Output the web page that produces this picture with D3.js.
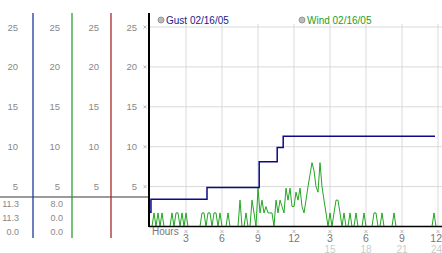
<!DOCTYPE html>
<html>
<head>
<meta charset="utf-8">
<script src="https://cdn.jsdelivr.net/npm/d3@7"></script>
<style>
  body { margin: 0; background: #fff; }
  text { font-family: "Liberation Sans", Arial, sans-serif; }
</style>
</head>
<body>
<div class="chart"></div>
<script>
// y axis ticks and bottom hour ticks
const yTicks = [5, 10, 15, 20, 25];
const hourTicks = [3, 6, 9, 12, 15, 18, 21, 24];
const hourLabels = ["3", "6", "9", "12", "3", "6", "9", "12"];
const hourLabels24 = ["", "", "", "", "15", "18", "21", "24"];

// legend / stats
const seriesNames = ["Gust 02/16/05", "Wind 02/16/05"];
const gustStats = ["11.3", "11.3", "0.0"];
const windStats = ["8.0", "0.0", "0.0"];

// gust: [hour, value], stepped
const gust = [
  [0, 1.8], [0.08, 3.4], [4.75, 4.9], [9.1, 8.1],
  [10.6, 9.9], [11.1, 11.3], [23.75, 11.3]
];

// wind: 10 minute samples, one row per hour
const wind = [
  0, 0, 1.7, 0, 1.7, 0,
  1.7, 0, 0, 0, 0, 1.7,
  0, 1.7, 1.7, 0, 1.7, 0,
  1.7, 0, 0, 0, 0, 0,
  0, 0, 1.7, 1.7, 0, 1.7,
  1.7, 0, 1.7, 1.7, 0, 1.7,
  0, 0, 0, 1.7, 0, 0,
  0, 0, 0, 3.3, 0, 0,
  1.7, 0, 0, 3.3, 1.7, 0,
  4.8, 1.7, 3.3, 1.7, 2.5, 1.7,
  1.7, 1.7, 0, 3.3, 1.7, 3.3,
  2.5, 1.7, 4.8, 3.3, 4.8, 2.5,
  2.5, 4.3, 3.3, 4.8, 2.5, 1.7,
  3.3, 5.0, 6.5, 8.0, 7.0, 5.0,
  4.3, 8.0, 5.0, 3.3, 1.7, 0,
  1.7, 0, 1.7, 3.3, 3.3, 1.7,
  0, 1.7, 0, 0, 1.7, 0,
  0, 1.7, 0, 0, 0, 1.7,
  0, 0, 0, 0, 1.7, 1.7,
  0, 0, 1.7, 0, 0, 0,
  0, 0, 1.7, 0, 0, 0,
  0, 0, 0, 0, 0, 0,
  0, 0, 0, 0, 0, 0,
  0, 0, 0, 0, 1.7, 0
];

const svg = d3.select(".chart")
  .append("svg")
    .attr("width", 442)
    .attr("height", 253);

const x = d3.scaleLinear().domain([0, 24]).range([150, 438]);
const y = d3.scaleLinear().domain([0, 25]).range([226.5, 27]);

// small x shaped tick marks
function mark(g, cx, cy) {
  g.append("path")
    .attr("d", "M" + (cx - 1.5) + "," + (cy - 1.5) + "l3,3M" + (cx + 1.5) + "," + (cy - 1.5) + "l-3,3")
    .attr("stroke", "#aaa")
    .attr("stroke-width", 0.8);
}

// grid
svg.append("g")
  .selectAll("line")
  .data(yTicks)
  .enter()
  .append("line")
    .attr("x1", 149).attr("x2", 442)
    .attr("y1", d => y(d)).attr("y2", d => y(d))
    .attr("stroke", "#d9d9d9");

svg.append("g")
  .selectAll("line")
  .data(hourTicks)
  .enter()
  .append("line")
    .attr("x1", d => x(d)).attr("x2", d => x(d))
    .attr("y1", 24).attr("y2", 226)
    .attr("stroke", "#d9d9d9");

// left side columns
const cols = [
  {lx: 18, line: 33, color: "#1c3a9c"},
  {lx: 60, line: 72, color: "#2e9e2e"},
  {lx: 99, line: 111, color: "#a82a2a"},
  {lx: 137, line: 149, color: "#000"}
];

svg.append("line")
  .attr("x1", 0).attr("x2", 149)
  .attr("y1", 197).attr("y2", 197)
  .attr("stroke", "#9a9a9a")
  .attr("stroke-width", 2);

cols.forEach(function(c, i) {
  svg.append("line")
    .attr("x1", c.line).attr("x2", c.line)
    .attr("y1", 13).attr("y2", i == 3 ? 227 : 238)
    .attr("stroke", c.color)
    .attr("stroke-width", i == 3 ? 2 : 1.3);

  svg.append("g")
    .selectAll("text")
    .data(yTicks)
    .enter()
    .append("text")
      .attr("x", c.lx)
      .attr("y", d => y(d) + 3.5)
      .attr("text-anchor", "end")
      .attr("fill", "#888")
      .style("font-size", "9.5px")
      .text(d => d);
});

const marks = svg.append("g");
yTicks.forEach(d => mark(marks, 145, y(d)));
hourTicks.forEach(d => mark(marks, x(d), 231.5));

// stats under the columns
svg.append("g")
  .selectAll("text")
  .data(gustStats)
  .enter()
  .append("text")
    .attr("x", 19)
    .attr("y", (d, i) => 207 + i * 14)
    .attr("text-anchor", "end")
    .attr("fill", "#888")
    .style("font-size", "9px")
    .text(d => d);

svg.append("g")
  .selectAll("text")
  .data(windStats)
  .enter()
  .append("text")
    .attr("x", 63)
    .attr("y", (d, i) => 207 + i * 14)
    .attr("text-anchor", "end")
    .attr("fill", "#888")
    .style("font-size", "9px")
    .text(d => d);

// wind line
const windLine = d3.line()
  .x((d, i) => x(i / 6))
  .y(d => y(d));

svg.append("path")
  .datum(wind)
  .attr("d", windLine)
  .attr("fill", "none")
  .attr("stroke", "#22a622")
  .attr("stroke-width", 1);

// bottom axis
svg.append("line")
  .attr("x1", 149).attr("x2", 442)
  .attr("y1", 226.5).attr("y2", 226.5)
  .attr("stroke", "#000")
  .attr("stroke-width", 1.5);

// gust step line
const gustLine = d3.line()
  .x(d => x(d[0]))
  .y(d => y(d[1]))
  .curve(d3.curveStepAfter);

svg.append("path")
  .datum(gust)
  .attr("d", gustLine)
  .attr("fill", "none")
  .attr("stroke", "#0a0a88")
  .attr("stroke-width", 1.5);

// hour labels (last one kept inside the picture)
const lastTick = hourTicks.length - 1;
svg.append("g")
  .selectAll("text")
  .data(hourTicks)
  .enter()
  .append("text")
    .attr("x", (d, i) => i == lastTick ? 442 : x(d))
    .attr("y", 242)
    .attr("text-anchor", (d, i) => i == lastTick ? "end" : "middle")
    .attr("fill", "#777")
    .style("font-size", "10.5px")
    .text((d, i) => hourLabels[i]);

svg.append("g")
  .selectAll("text")
  .data(hourTicks)
  .enter()
  .append("text")
    .attr("x", (d, i) => i == lastTick ? 442 : x(d))
    .attr("y", 252.5)
    .attr("text-anchor", (d, i) => i == lastTick ? "end" : "middle")
    .attr("fill", "#ccc")
    .style("font-size", "10px")
    .text((d, i) => hourLabels24[i]);

svg.append("text")
  .attr("x", 152)
  .attr("y", 235)
  .attr("fill", "#777")
  .style("font-size", "10px")
  .text("Hours");

// legend
const legendX = [161, 302];
const legendColor = ["#1a1a8a", "#22a022"];
seriesNames.forEach(function(n, i) {
  svg.append("circle")
    .attr("cx", legendX[i]).attr("cy", 20)
    .attr("r", 3)
    .attr("fill", "#bbb")
    .attr("stroke", "#888")
    .attr("stroke-width", 0.8);
  svg.append("text")
    .attr("x", legendX[i] + 5)
    .attr("y", 24)
    .attr("fill", legendColor[i])
    .style("font-size", "10px")
    .text(n);
});
</script>
</body>
</html>
